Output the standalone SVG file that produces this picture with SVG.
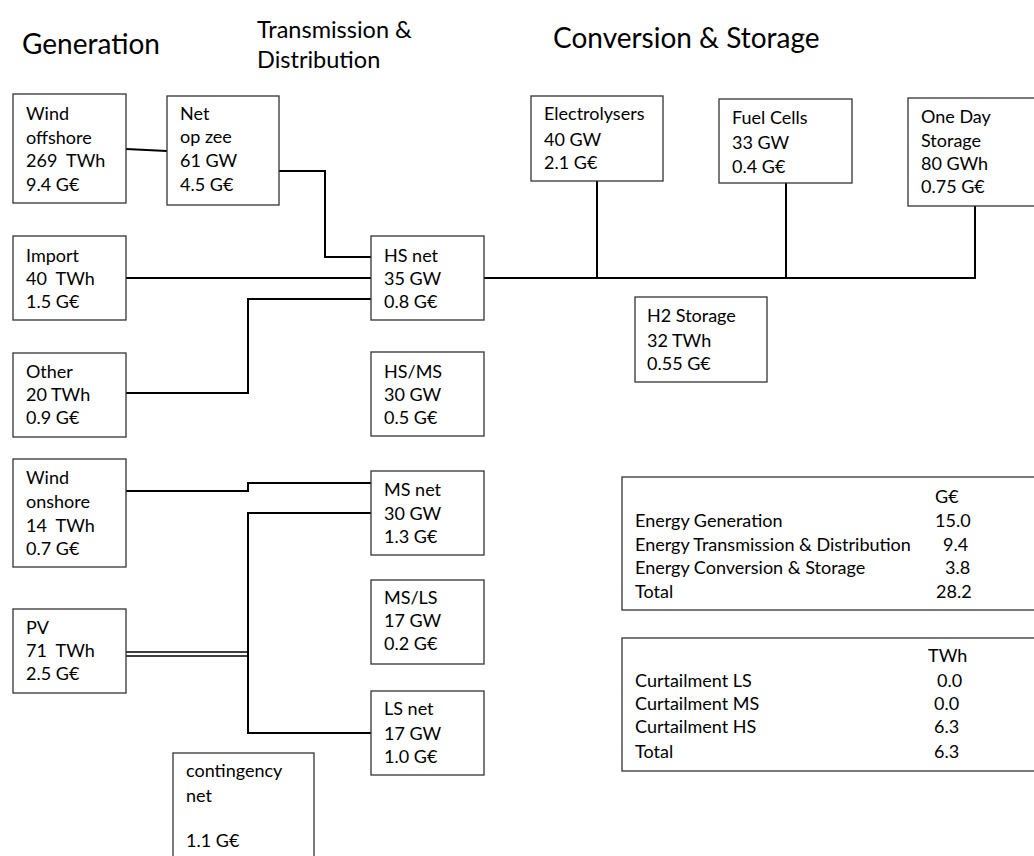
<svg xmlns="http://www.w3.org/2000/svg" width="1034" height="856" viewBox="0 0 1034 856">
<style>
text{font-family:Lato,"Liberation Sans",sans-serif;font-size:18px;fill:#000;white-space:pre}
.h{font-size:28px}
.h2{font-size:23.5px}
.box{fill:#fff;stroke:#333;stroke-width:1.3}
.c{fill:none;stroke:#000;stroke-width:2}
.d{fill:none;stroke:#000;stroke-width:1.4}
</style>
<rect width="1034" height="856" fill="#fff"/>
<g id="headers">
<text class="h" x="22" y="54">Generation</text>
<text class="h2" x="257" y="38">Transmission &amp;</text>
<text class="h2" x="257" y="68">Distribution</text>
<text class="h" x="553" y="48">Conversion &amp; Storage</text>
</g>
<g id="connectors">
<path class="c" d="M126,149 L167,151"/>
<path class="c" d="M279,171 H325 V257 H371"/>
<path class="c" d="M126,278 H371"/>
<path class="c" d="M126,393 H248 V299 H371"/>
<path class="c" d="M484,278 H975 V206"/>
<path class="c" d="M597,181 V278"/>
<path class="c" d="M786,183 V278"/>
<path class="c" d="M126,491 H248 V483 H371"/>
<path class="c" d="M371,513 H248 V733 H371"/>
<path class="d" d="M126,652 H248 M126,656 H248"/>
</g>
<g id="wind-offshore"><rect class="box" x="13" y="94" width="113" height="109"/>
<text x="26" y="120">Wind</text><text x="26" y="144">offshore</text><text x="26" y="167" xml:space="preserve">269  TWh</text><text x="26" y="191">9.4 G€</text></g>
<g id="net-op-zee"><rect class="box" x="167" y="96" width="112" height="109"/>
<text x="180" y="120">Net</text><text x="180" y="143">op zee</text><text x="180" y="167">61 GW</text><text x="180" y="191">4.5 G€</text></g>
<g id="import"><rect class="box" x="13" y="236" width="113" height="84"/>
<text x="26" y="262">Import</text><text x="26" y="285" xml:space="preserve">40  TWh</text><text x="26" y="308">1.5 G€</text></g>
<g id="hs-net"><rect class="box" x="371" y="236" width="113" height="84"/>
<text x="384" y="262">HS net</text><text x="384" y="285">35 GW</text><text x="384" y="308">0.8 G€</text></g>
<g id="other"><rect class="box" x="13" y="353" width="113" height="84"/>
<text x="26" y="378">Other</text><text x="26" y="401">20 TWh</text><text x="26" y="424">0.9 G€</text></g>
<g id="hs-ms"><rect class="box" x="371" y="352" width="113" height="84"/>
<text x="384" y="378">HS/MS</text><text x="384" y="401">30 GW</text><text x="384" y="424">0.5 G€</text></g>
<g id="wind-onshore"><rect class="box" x="13" y="459" width="113" height="108"/>
<text x="26" y="484">Wind</text><text x="26" y="508">onshore</text><text x="26" y="532" xml:space="preserve">14  TWh</text><text x="26" y="555">0.7 G€</text></g>
<g id="ms-net"><rect class="box" x="371" y="471" width="113" height="84"/>
<text x="384" y="496">MS net</text><text x="384" y="520">30 GW</text><text x="384" y="543">1.3 G€</text></g>
<g id="ms-ls"><rect class="box" x="371" y="580" width="113" height="84"/>
<text x="384" y="604">MS/LS</text><text x="384" y="627">17 GW</text><text x="384" y="650">0.2 G€</text></g>
<g id="pv"><rect class="box" x="13" y="609" width="113" height="84"/>
<text x="26" y="634">PV</text><text x="26" y="657" xml:space="preserve">71  TWh</text><text x="26" y="680">2.5 G€</text></g>
<g id="ls-net"><rect class="box" x="371" y="691" width="113" height="84"/>
<text x="384" y="715">LS net</text><text x="384" y="740">17 GW</text><text x="384" y="763">1.0 G€</text></g>
<g id="contingency-net"><rect class="box" x="173" y="753" width="141" height="120"/>
<text x="186" y="777">contingency</text><text x="186" y="802">net</text><text x="186" y="847">1.1 G€</text></g>
<g id="electrolysers"><rect class="box" x="531" y="96" width="132" height="85"/>
<text x="544" y="120">Electrolysers</text><text x="544" y="146">40 GW</text><text x="544" y="169">2.1 G€</text></g>
<g id="fuel-cells"><rect class="box" x="719" y="99" width="133" height="84"/>
<text x="732" y="124">Fuel Cells</text><text x="732" y="149">33 GW</text><text x="732" y="173">0.4 G€</text></g>
<g id="one-day-storage"><rect class="box" x="908" y="98" width="140" height="108"/>
<text x="921" y="123">One Day</text><text x="921" y="147">Storage</text><text x="921" y="170">80 GWh</text><text x="921" y="193">0.75 G€</text></g>
<g id="h2-storage"><rect class="box" x="635" y="297" width="132" height="85"/>
<text x="647" y="322">H2 Storage</text><text x="647" y="347">32 TWh</text><text x="647" y="370">0.55 G€</text></g>
<g id="cost-table"><rect class="box" x="622" y="477" width="420" height="133"/>
<text x="935" y="503">G€</text>
<text x="635" y="527">Energy Generation</text><text x="935" y="527">15.0</text>
<text x="635" y="551">Energy Transmission &amp; Distribution</text><text x="943" y="551">9.4</text>
<text x="635" y="574">Energy Conversion &amp; Storage</text><text x="945" y="574">3.8</text>
<text x="635" y="598">Total</text><text x="936" y="598">28.2</text></g>
<g id="curtailment-table"><rect class="box" x="622" y="638" width="420" height="133"/>
<text x="928" y="662">TWh</text>
<text x="635" y="687">Curtailment LS</text><text x="937" y="687">0.0</text>
<text x="635" y="710">Curtailment MS</text><text x="934" y="710">0.0</text>
<text x="635" y="733">Curtailment HS</text><text x="934" y="733">6.3</text>
<text x="635" y="758">Total</text><text x="934" y="758">6.3</text></g>
</svg>
